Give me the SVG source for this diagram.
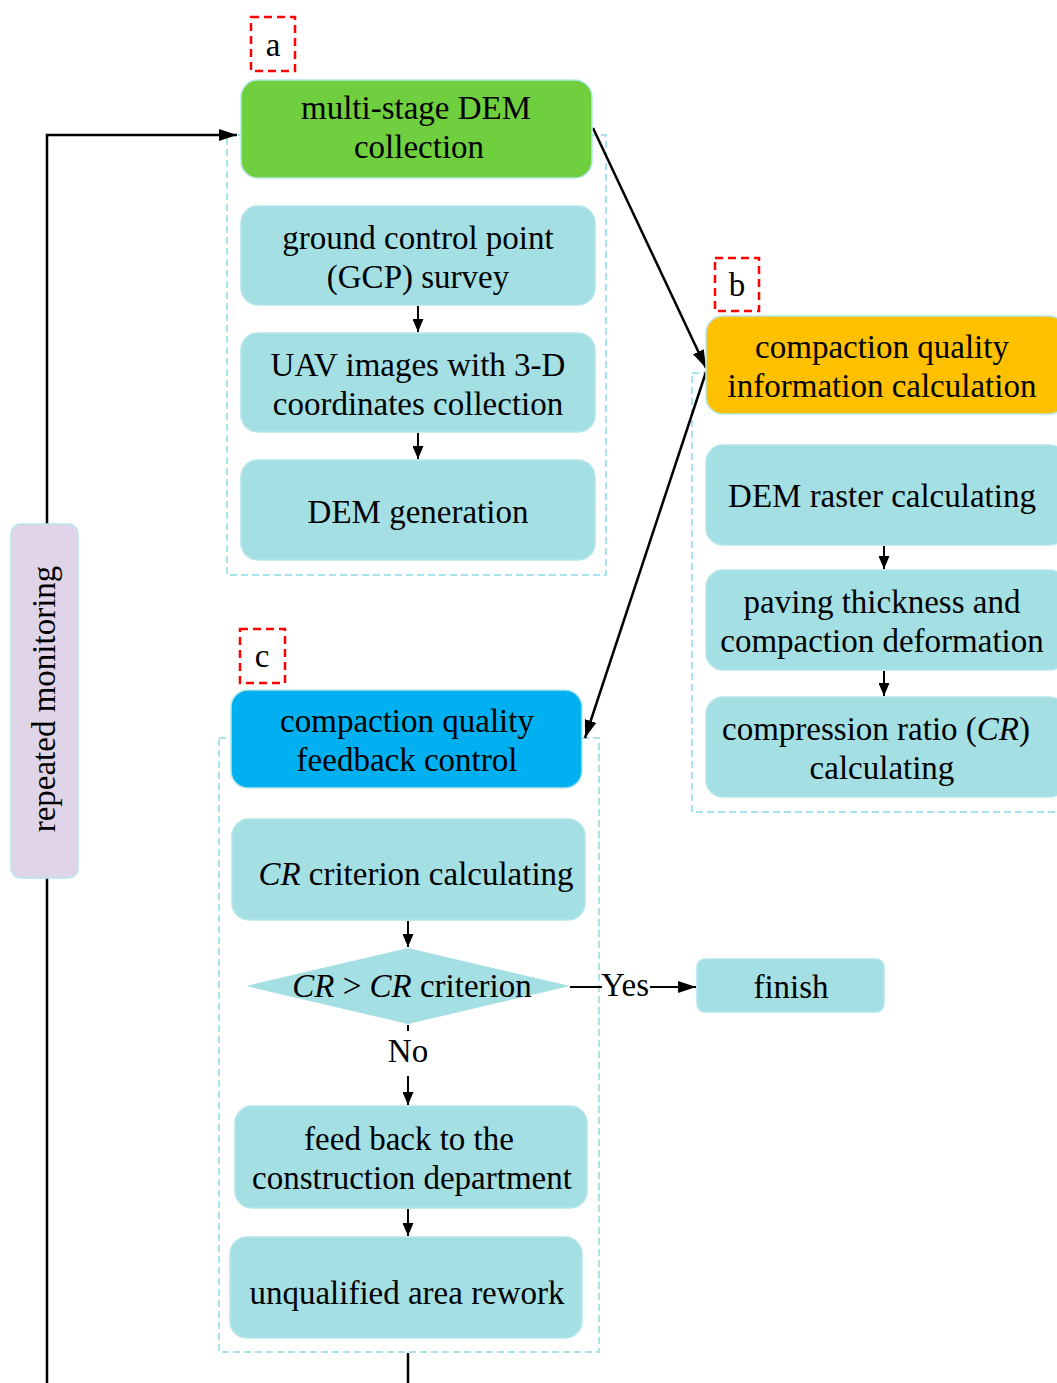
<svg xmlns="http://www.w3.org/2000/svg" width="1057" height="1383" viewBox="0 0 1057 1383" font-family="'Liberation Serif','Times New Roman',serif">
<defs>
<marker id="ah" viewBox="0 0 13 11" refX="13" refY="5.5" markerWidth="13" markerHeight="11" markerUnits="userSpaceOnUse" orient="auto">
<path d="M0,0 L13,5.5 L0,11 z" fill="#000"/>
</marker>
<marker id="ah2" viewBox="0 0 18 12" refX="18" refY="6" markerWidth="18" markerHeight="12" markerUnits="userSpaceOnUse" orient="auto">
<path d="M0,0 L18,6 L0,12 z" fill="#000"/>
</marker>
</defs>
<style>
text{font-family:"Liberation Serif","Times New Roman",serif;font-size:33px;fill:#000;text-anchor:middle}
.box{fill:#a4dfe3;stroke:#b5e6ea;stroke-width:1.5}
.cont{fill:none;stroke:#a8e2ea;stroke-width:2;stroke-dasharray:7 4}
.tag{fill:none;stroke:#ff0000;stroke-width:2.5;stroke-dasharray:8 5}
.ln{fill:none;stroke:#000;stroke-width:2.5}
.ln2{fill:none;stroke:#000;stroke-width:2}
</style>
<rect width="1057" height="1383" fill="#fff"/>

<g id="containers">
<rect class="cont" x="227" y="135" width="379" height="440"/>
<rect class="cont" x="692" y="373" width="380" height="439"/>
<rect class="cont" x="219" y="738" width="380" height="614"/>
</g>

<g id="tag-a"><rect class="tag" x="251" y="17" width="44" height="54"/><text x="273" y="56" font-size="29">a</text></g>
<g id="tag-b"><rect class="tag" x="715" y="258" width="44" height="53"/><text x="737" y="296" font-size="29">b</text></g>
<g id="tag-c"><rect class="tag" x="240" y="629" width="45" height="54"/><text x="262" y="667" font-size="29">c</text></g>

<g id="connectors">
<path class="ln" d="M47,524 V135 H237" marker-end="url(#ah2)"/>
<path class="ln" d="M47,878 V1383"/>
<path class="ln" d="M408,1353 V1383"/>
<path class="ln" d="M593,128 L706,368" marker-end="url(#ah2)"/>
<path class="ln" d="M706,372 L585,738" marker-end="url(#ah2)"/>
<path class="ln2" d="M418,306 V332" marker-end="url(#ah)"/>
<path class="ln2" d="M418,433 V459" marker-end="url(#ah)"/>
<path class="ln2" d="M884,546 V569" marker-end="url(#ah)"/>
<path class="ln2" d="M884,671 V696" marker-end="url(#ah)"/>
<path class="ln2" d="M408,921 V947" marker-end="url(#ah)"/>
<path class="ln2" d="M570,987 H602"/>
<path class="ln2" d="M650,987 H696" marker-end="url(#ah2)"/>
<path class="ln2" d="M408,1025 V1031"/>
<path class="ln2" d="M408,1076 V1105" marker-end="url(#ah)"/>
<path class="ln2" d="M408,1209 V1236" marker-end="url(#ah)"/>
<text x="625" y="996" font-size="25">Yes</text>
<text x="408" y="1062" font-size="25">No</text>
</g>

<g id="n-dem-collection">
<rect x="241" y="80" width="351" height="98" rx="17" fill="#6fcf3f" stroke="#b5e6ea" stroke-width="1.5"/>
<text x="416" y="119">multi-stage DEM</text>
<text x="419" y="158">collection</text>
</g>
<g id="n-gcp">
<rect class="box" x="241" y="206" width="354" height="99" rx="17"/>
<text x="418" y="249">ground control point</text>
<text x="418" y="288">(GCP) survey</text>
</g>
<g id="n-uav">
<rect class="box" x="241" y="333" width="354" height="99" rx="17"/>
<text x="418" y="376">UAV images with 3-D</text>
<text x="418" y="415">coordinates collection</text>
</g>
<g id="n-demgen">
<rect class="box" x="241" y="460" width="354" height="100" rx="17"/>
<text x="418" y="523">DEM generation</text>
</g>

<g id="n-cqi">
<rect x="706" y="316" width="360" height="98" rx="17" fill="#ffc000" stroke="#b5e6ea" stroke-width="1.5"/>
<text x="882" y="358">compaction quality</text>
<text x="882" y="397">information calculation</text>
</g>
<g id="n-raster">
<rect class="box" x="706" y="445" width="360" height="100" rx="17"/>
<text x="882" y="507">DEM raster calculating</text>
</g>
<g id="n-paving">
<rect class="box" x="706" y="570" width="360" height="100" rx="17"/>
<text x="882" y="613">paving thickness and</text>
<text x="882" y="652">compaction deformation</text>
</g>
<g id="n-cr">
<rect class="box" x="706" y="697" width="360" height="100" rx="17"/>
<text x="876" y="740">compression ratio (<tspan font-style="italic">CR</tspan>)</text>
<text x="882" y="779">calculating</text>
</g>

<g id="n-feedback-control">
<rect x="231" y="690" width="351" height="98" rx="17" fill="#00b0f0" stroke="#b5e6ea" stroke-width="1.5"/>
<text x="407" y="732">compaction quality</text>
<text x="407" y="771">feedback control</text>
</g>
<g id="n-crcrit">
<rect class="box" x="232" y="819" width="353" height="101" rx="17"/>
<text x="416" y="885"><tspan font-style="italic">CR</tspan> criterion calculating</text>
</g>
<g id="n-decision">
<polygon points="246,986 408,948 570,986 408,1024" fill="#a4dfe3"/>
<text x="412" y="997"><tspan font-style="italic">CR</tspan> &gt; <tspan font-style="italic">CR</tspan> criterion</text>
</g>
<g id="n-finish">
<rect class="box" x="697" y="959" width="187" height="53" rx="8"/>
<text x="791" y="998">finish</text>
</g>
<g id="n-feedback">
<rect class="box" x="235" y="1106" width="352" height="102" rx="17"/>
<text x="409" y="1150">feed back to the</text>
<text x="412" y="1189">construction department</text>
</g>
<g id="n-rework">
<rect class="box" x="230" y="1237" width="352" height="101" rx="17"/>
<text x="407" y="1304">unqualified area rework</text>
</g>

<g id="n-repeat">
<rect x="11" y="524" width="67" height="354" rx="10" fill="#e0d5e8" stroke="#b5e6ea" stroke-width="1.5"/>
<text transform="translate(55,699) rotate(-90)">repeated monitoring</text>
</g>
</svg>
